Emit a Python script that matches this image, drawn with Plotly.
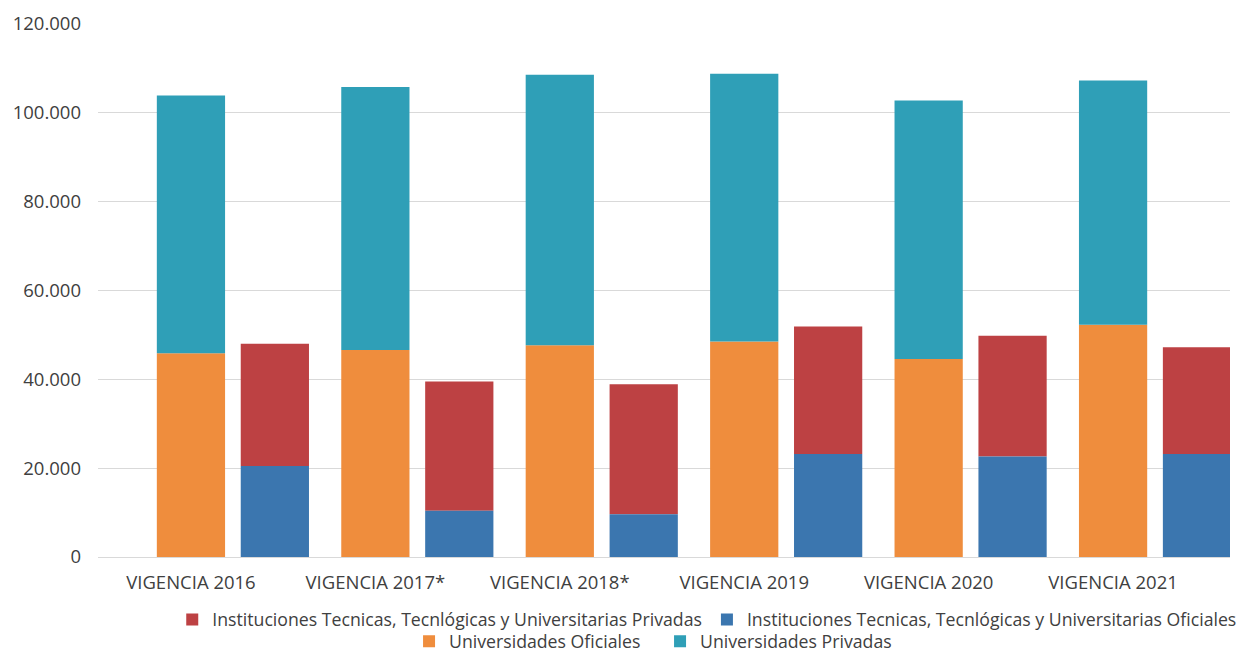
import plotly.graph_objects as go

vigencias = ["VIGENCIA 2016", "VIGENCIA 2017*", "VIGENCIA 2018*",
             "VIGENCIA 2019", "VIGENCIA 2020", "VIGENCIA 2021"]

univ_oficiales = [45900, 46600, 47700, 48500, 44600, 52300]
univ_total = [103900, 105800, 108600, 108800, 102800, 107300]
univ_privadas = [t - o for t, o in zip(univ_total, univ_oficiales)]

inst_oficiales = [20500, 10400, 9600, 23200, 22600, 23200]
inst_total = [48000, 39500, 38900, 51900, 49800, 47200]
inst_privadas = [t - o for t, o in zip(inst_total, inst_oficiales)]

c_teal = "#2f9fb7"
c_orange = "#ef8d3d"
c_red = "#bd4143"
c_blue = "#3b76af"

bw = 0.37
off_u = -0.185
off_i = 0.27

fig = go.Figure()

fig.add_trace(go.Bar(x=vigencias, y=inst_privadas, base=inst_oficiales,
                     name="Instituciones Tecnicas, Tecnlógicas y Universitarias Privadas",
                     marker_color=c_red, width=bw, offset=off_i, legend="legend"))
fig.add_trace(go.Bar(x=vigencias, y=inst_oficiales,
                     name="Instituciones Tecnicas, Tecnlógicas y Universitarias Oficiales",
                     marker_color=c_blue, width=bw, offset=off_i, legend="legend"))
fig.add_trace(go.Bar(x=vigencias, y=univ_oficiales,
                     name="Universidades Oficiales",
                     marker_color=c_orange, width=bw, offset=off_u, legend="legend2"))
fig.add_trace(go.Bar(x=vigencias, y=univ_privadas, base=univ_oficiales,
                     name="Universidades Privadas",
                     marker_color=c_teal, width=bw, offset=off_u, legend="legend2"))

fig.update_traces(marker_line_width=0)

legend_font = dict(family="Open Sans, sans-serif", size=17.7, color="#404040")

# page body has an 8px margin, so the figure is sized to fit the window
fig.update_layout(
    width=1242, height=644,
    barmode="overlay",
    separators=",.",
    plot_bgcolor="white",
    paper_bgcolor="white",
    margin=dict(l=90, r=20, t=16, b=95, autoexpand=False),
    font=dict(family="Open Sans, sans-serif", size=17, color="#404040"),
    legend=dict(orientation="h", xref="container", yref="container",
                x=0.563, y=0.0497, xanchor="center", yanchor="middle",
                font=legend_font, traceorder="normal",
                itemwidth=30, tracegroupgap=0, bgcolor="rgba(0,0,0,0)"),
    legend2=dict(orientation="h", xref="container", yref="container",
                 x=0.525, y=0.016, xanchor="center", yanchor="middle",
                 font=legend_font, traceorder="normal", entrywidth=206,
                 itemwidth=30, tracegroupgap=0, bgcolor="rgba(0,0,0,0)"),
)

fig.update_xaxes(range=[-0.504, 5.634], showgrid=False, showline=False,
                 zeroline=False, ticks="", ticklabelstandoff=12, automargin=False,
                 tickfont=dict(size=18.5, color="#404040"))
fig.update_yaxes(range=[0, 120000], dtick=20000, tickformat=",.0f",
                 showgrid=True, gridcolor="#d9d9d9", gridwidth=1,
                 zeroline=True, zerolinecolor="#d9d9d9", zerolinewidth=1,
                 ticks="", ticklabelstandoff=16, automargin=False,
                 tickfont=dict(size=18.5, color="#404040"))

fig.write_html("out.html")
